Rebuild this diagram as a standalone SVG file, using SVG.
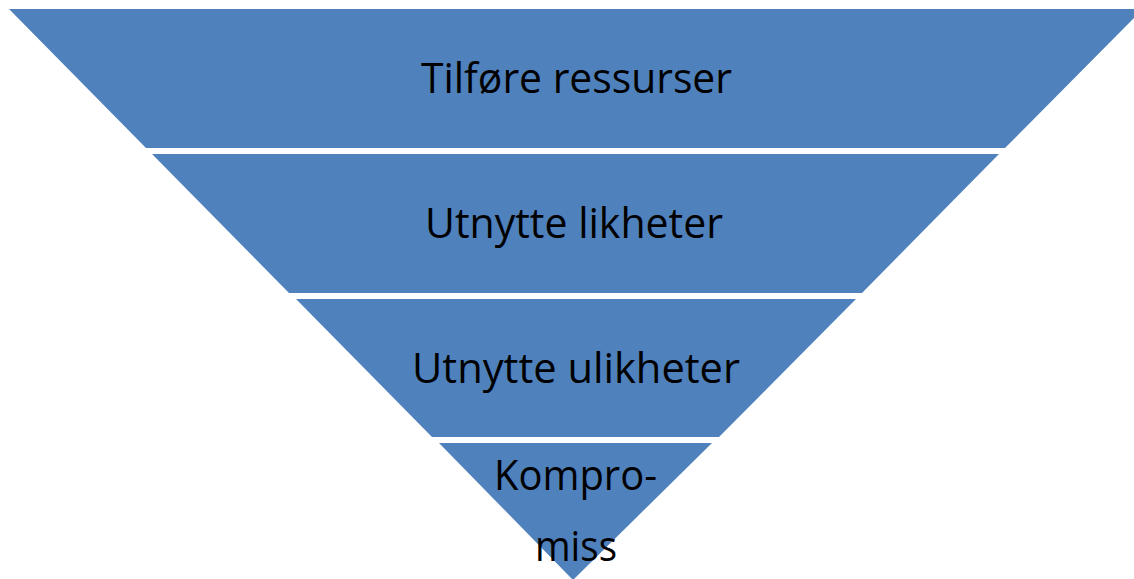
<svg xmlns="http://www.w3.org/2000/svg" width="1134" height="579" viewBox="0 0 1134 579">
<style>
.band{fill:#4F81BD;}
.lbl{font-family:"Open Sans","Noto Sans","Liberation Sans",sans-serif;font-size:42px;fill:#000;text-anchor:middle;}
</style>
<rect width="1134" height="579" fill="#fff"/>
<g id="band1">
<polygon class="band" points="9,9 1143,9 1005,148 146,148"/>
<text class="lbl" x="576.5" y="93" textLength="311" lengthAdjust="spacingAndGlyphs">Tilføre ressurser</text>
</g>
<g id="band2">
<polygon class="band" points="152,154 999,154 862,293 289,293"/>
<text class="lbl" x="574" y="238" textLength="298" lengthAdjust="spacingAndGlyphs">Utnytte likheter</text>
</g>
<g id="band3">
<polygon class="band" points="296,299 856,299 719,437 432,437"/>
<text class="lbl" x="576" y="383" textLength="328" lengthAdjust="spacingAndGlyphs">Utnytte ulikheter</text>
</g>
<g id="band4">
<polygon class="band" points="439,443 712,443 573,580"/>
<text class="lbl" x="575.5" y="490" textLength="163" lengthAdjust="spacingAndGlyphs">Kompro-</text>
<text class="lbl" x="576" y="561" textLength="82" lengthAdjust="spacingAndGlyphs">miss</text>
</g>
<g id="connectors"></g>
</svg>
